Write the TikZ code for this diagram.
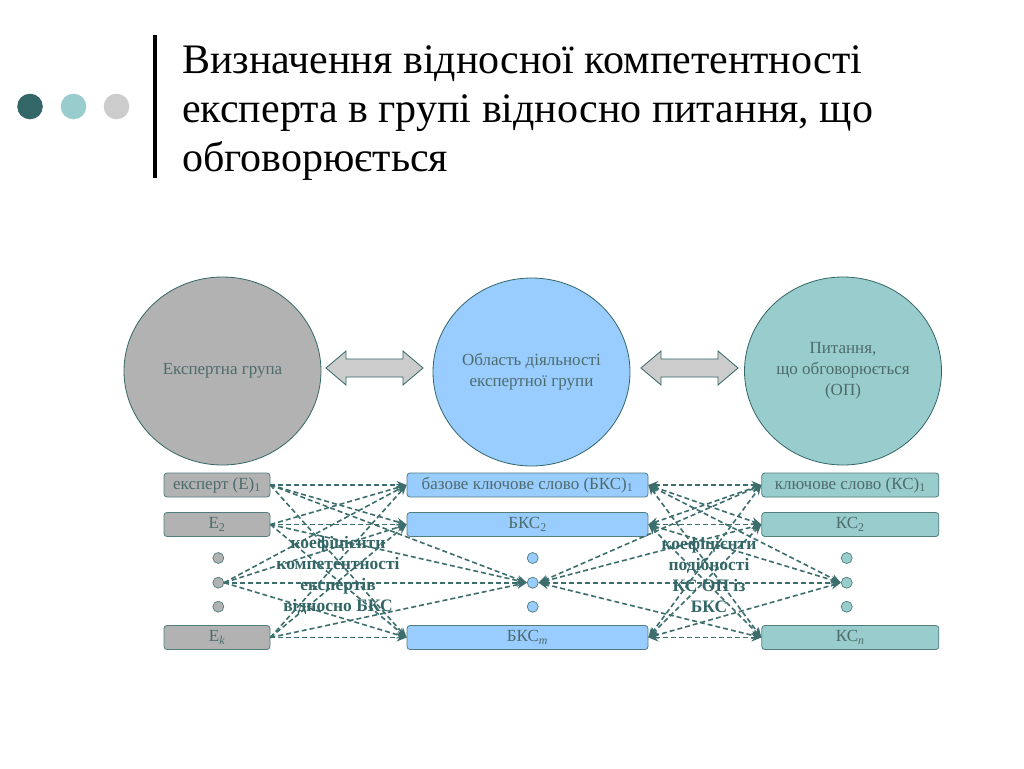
\documentclass[tikz,border=0pt]{standalone}
\usepackage{fontspec}
\setmainfont{Liberation Serif}
\usetikzlibrary{arrows.meta,shapes.geometric}
\definecolor{tealdark}{HTML}{336666}
\definecolor{tealtext}{HTML}{4D6B6B}
\definecolor{tealfill}{HTML}{99CCCC}
\definecolor{greyfill}{HTML}{B2B2B2}
\definecolor{bluefill}{HTML}{99CCFF}
\definecolor{greylight}{HTML}{CCCCCC}

\begin{document}
\begin{tikzpicture}[x=1pt,y=-1pt,
	bigc/.style={ellipse,draw=tealdark,line width=0.8pt,minimum width=197pt,minimum height=188pt,inner sep=0pt,text=tealtext,align=center,font=\fontsize{17}{21}\selectfont},
	kbox/.style={rectangle,rounded corners=3pt,draw=tealdark!85,line width=0.8pt,minimum height=24pt,inner sep=0pt,text=tealtext,font=\fontsize{17}{18}\selectfont},
	kdot/.style={circle,draw=tealdark!85,line width=0.7pt,minimum size=11pt,inner sep=0pt},
	link/.style={draw=tealdark!95,line width=1.6pt,dash pattern=on 5pt off 3pt},
	coef/.style={text=tealdark,align=center,font=\bfseries\fontsize{17.5}{21}\selectfont},
	tip/.tip={Stealth[length=10pt,width=8pt]}]
\fill[white] (0,0) rectangle (1024,768);
\useasboundingbox (0,0) rectangle (1024,768);
% title
\fill[tealdark] (30,106.5) circle (12.8pt);
\fill[tealfill] (73.5,106.5) circle (12.8pt);
\fill[greylight] (116.5,106.5) circle (12.8pt);
\fill[black] (152.7,35) rectangle (156.7,178);
\path (182,73) node[anchor=base west,inner sep=0pt] (t1) {\fontsize{42}{49}\selectfont Визначення відносної компетентності}
		(182,122) node[anchor=base west,inner sep=0pt] (t2) {\fontsize{42}{49}\selectfont експерта в групі відносно питання, що}
		(182,171) node[anchor=base west,inner sep=0pt] (t3) {\fontsize{42}{49}\selectfont обговорюється}
		;
% circles
\path (222.5,371) node[bigc,fill=greyfill] (eg) {Експертна група}
		(531.5,372) node[bigc,fill=bluefill] (bo) {Область діяльності\\експертної групи}
		(843,371) node[bigc,fill=tealfill] (op) {Питання,\\що обговорюється\\(ОП)}
		;
\foreach \x in {326,641}
	\draw[fill=greylight,draw=tealdark,line width=0.8pt,xshift=\x] (0,368) -- (20,351) -- (20,359) -- (77,359) -- (77,351) -- (97,368)
		-- (77,385) -- (77,377) -- (20,377) -- (20,385) -- cycle;
% columns
\path (217,485) node[kbox,fill=greyfill,minimum width=106pt] (e1) {експерт (Е)\textsubscript{1}}
		(217,524.5) node[kbox,fill=greyfill,minimum width=106pt] (e2) {Е\textsubscript{2}}
		(218.3,582.7) node[kdot,fill=greyfill] (ed) {}
		(217,637.5) node[kbox,fill=greyfill,minimum width=106pt] (ek) {Е\textsubscript{\itshape k}}
		(527.5,485) node[kbox,fill=bluefill,minimum width=241pt] (b1) {базове ключове слово (БКС)\textsubscript{1}}
		(527.5,524.5) node[kbox,fill=bluefill,minimum width=241pt] (b2) {БКС\textsubscript{2}}
		(532.7,582.7) node[kdot,fill=bluefill] (bd) {}
		(527.5,637.5) node[kbox,fill=bluefill,minimum width=241pt] (bm) {БКС\textsubscript{\itshape m}}
		(850.3,485) node[kbox,fill=tealfill,minimum width=177pt] (k1) {ключове слово (КС)\textsubscript{1}}
		(850.3,524.5) node[kbox,fill=tealfill,minimum width=177pt] (k2) {КС\textsubscript{2}}
		(846.7,582.7) node[kdot,fill=tealfill] (kd) {}
		(850.3,637.5) node[kbox,fill=tealfill,minimum width=177pt] (kn) {КС\textsubscript{\itshape n}}
		;
\foreach \y in {558,606.7} {
	\node[kdot,fill=greyfill] at (218.3,\y) {};
	\node[kdot,fill=bluefill] at (532.7,\y) {};
	\node[kdot,fill=tealfill] at (846.7,\y) {};
}
% links
\foreach \s in {e1,e2,ed,ek}
	\foreach \t in {b1,b2,bd,bm}
		\draw[link,-tip] (\s.east) -- (\t.west);
\foreach \s in {b1,b2,bd,bm}
	\foreach \t in {k1,k2,kd,kn}
		\draw[link,tip-tip] (\s.east) -- (\t.west);
\path (338,575) node[coef] (ce) {коефіцієнти\\компетентності\\експертів\\відносно БКС}
		(709,575) node[coef] (ck) {коефіцієнти\\подібності\\КС ОП із\\БКС}
		;
\end{tikzpicture}
\end{document}
